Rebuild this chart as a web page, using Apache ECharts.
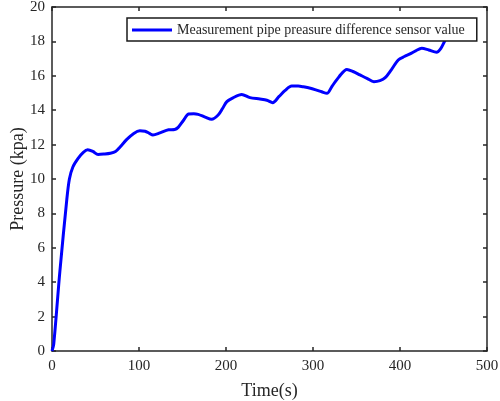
<!DOCTYPE html>
<html>
<head>
<meta charset="utf-8">
<script src="https://cdn.jsdelivr.net/npm/echarts@6/dist/echarts.min.js"></script>
<style>
  html, body { margin: 0; padding: 0; background: #fff; }
</style>
</head>
<body>
<div id="main" style="width:500px; height:401px;"></div>
<script>
var timeS = [0, 2, 9, 17, 20, 24, 30, 36, 41, 47, 53, 60, 67, 73, 78, 86, 94, 101, 107, 112, 116, 124, 134, 141, 145, 151, 157, 163, 168, 176, 183.5, 191, 196, 201, 208, 218, 227.6, 239, 247, 253.7, 261, 268, 275.5, 283, 289, 297, 304, 310, 316, 322, 330, 339, 346, 354, 362, 370, 377, 383, 390, 398, 405, 411.5, 418, 425, 433, 442, 447, 452, 458];
var pressure = [0, 0.4, 4.6, 8.8, 10.0, 10.7, 11.2, 11.55, 11.7, 11.6, 11.42, 11.45, 11.5, 11.6, 11.85, 12.3, 12.65, 12.8, 12.78, 12.65, 12.56, 12.68, 12.86, 12.88, 13.0, 13.4, 13.78, 13.8, 13.76, 13.6, 13.47, 13.72, 14.1, 14.5, 14.72, 14.92, 14.73, 14.65, 14.58, 14.44, 14.8, 15.15, 15.4, 15.4, 15.36, 15.28, 15.17, 15.07, 14.98, 15.4, 15.95, 16.37, 16.25, 16.05, 15.85, 15.66, 15.72, 15.89, 16.35, 16.92, 17.12, 17.27, 17.45, 17.6, 17.5, 17.37, 17.6, 18.08, 18.6];
var xTicks = [0, 100, 200, 300, 400, 500];
var yTicks = [0, 2, 4, 6, 8, 10, 12, 14, 16, 18, 20];
var seriesName = 'Measurement pipe preasure difference sensor value';

var pts = timeS.map(function (t, i) { return [t, pressure[i]]; });

var font = '"Liberation Serif", "Times New Roman", serif';
var axisCol = '#262626';
var txtCol = '#262626';

var myChart = echarts.init(document.getElementById('main'));
myChart.setOption({
  animation: false,
  backgroundColor: '#fff',
  grid: { left: 52, right: 13, top: 7, bottom: 50, containLabel: false, outerBoundsMode: 'none' },
  legend: {
    show: true,
    data: [{ name: seriesName, icon: 'rect' }],
    left: 127,
    top: 18,
    orient: 'horizontal',
    itemWidth: 40,
    itemHeight: 3,
    itemGap: 0,
    padding: [5, 12, 4, 5],
    backgroundColor: '#fff',
    borderColor: '#1a1a1a',
    borderWidth: 1.5,
    borderRadius: 0,
    z: 10,
    textStyle: { fontFamily: font, fontSize: 14, color: txtCol, lineHeight: 14 }
  },
  xAxis: [{
    type: 'value',
    min: 0, max: 500, interval: 100,
    name: 'Time(s)',
    nameLocation: 'middle',
    nameGap: 31,
    nameMoveOverlap: false,
    nameTextStyle: { fontFamily: font, fontSize: 18, color: txtCol },
    axisLine: { show: true, onZero: false, lineStyle: { color: axisCol, width: 1.5 } },
    axisTick: { show: true, inside: true, length: 4, lineStyle: { color: axisCol, width: 1.5 } },
    axisLabel: { fontFamily: font, fontSize: 15, color: txtCol, margin: 8 },
    splitLine: { show: false }
  }, {
    type: 'value', position: 'top',
    min: 0, max: 500, interval: 100,
    axisLine: { show: true, onZero: false, lineStyle: { color: axisCol, width: 1.5 } },
    axisTick: { show: true, inside: true, length: 4, lineStyle: { color: axisCol, width: 1.5 } },
    axisLabel: { show: false },
    splitLine: { show: false }
  }],
  yAxis: [{
    type: 'value',
    min: 0, max: 20, interval: 2,
    name: 'Pressure (kpa)',
    nameLocation: 'middle',
    nameGap: 25,
    nameMoveOverlap: false,
    nameTextStyle: { fontFamily: font, fontSize: 18, color: txtCol },
    axisLine: { show: true, onZero: false, lineStyle: { color: axisCol, width: 1.5 } },
    axisTick: { show: true, inside: true, length: 4, lineStyle: { color: axisCol, width: 1.5 } },
    axisLabel: { fontFamily: font, fontSize: 15, color: txtCol, margin: 7 },
    splitLine: { show: false }
  }, {
    type: 'value', position: 'right',
    min: 0, max: 20, interval: 2,
    axisLine: { show: true, onZero: false, lineStyle: { color: axisCol, width: 1.5 } },
    axisTick: { show: true, inside: true, length: 4, lineStyle: { color: axisCol, width: 1.5 } },
    axisLabel: { show: false },
    splitLine: { show: false }
  }],
  series: [{
    name: seriesName,
    type: 'line',
    data: pts,
    smooth: 0.3,
    symbol: 'none',
    clip: true,
    lineStyle: { color: '#0000ff', width: 3 },
    itemStyle: { color: '#0000ff' }
  }]
});
</script>
</body>
</html>
